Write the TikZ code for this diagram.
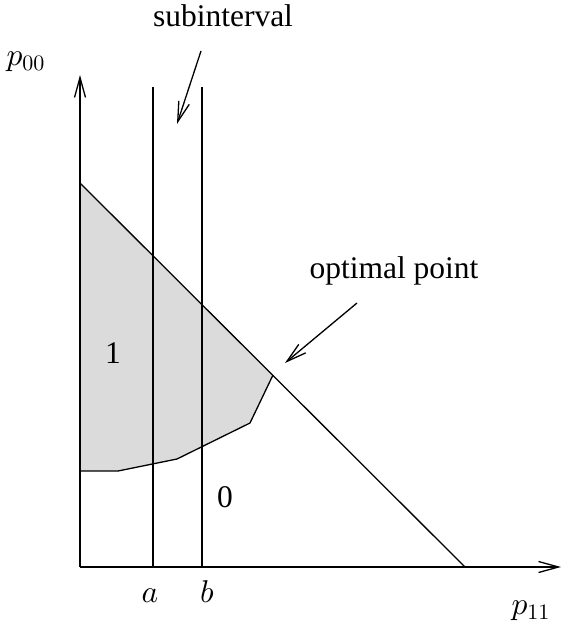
\documentclass[tikz,border=0pt]{standalone}
\usepackage{fix-cm}
\usepackage{fontspec}
\setmainfont{Liberation Serif}
\DeclareFontShape{OML}{cmm}{m}{it}{<->cmmi10}{}
\usetikzlibrary{arrows.meta}

\tikzset{
  axis/.style={->},
  pointer/.style={->},
  label/.style={anchor=base, inner sep=0pt},
  region/.style={fill=black!14}
}

\begin{document}
\begin{tikzpicture}[x=0.5pt,y=-0.5pt,line width=0.65pt,
  font=\fontsize{15.75}{18}\selectfont,
  >={Straight Barb[length=10pt,width=5.5pt]}]
\useasboundingbox (0,0) rectangle (562,626);
% corners
\coordinate (origin) at (80,567);
\coordinate (ytop) at (80,75);
\coordinate (xend) at (561,567);
\coordinate (top) at (80,183);
\coordinate (foot) at (465,567);
\coordinate (opt point) at (273,375);
% feasible region
\fill[region] (top) -- (opt point) -- (250,423) -- (177,459) -- (118,471) -- (80,471) -- cycle;
\draw (opt point) -- (250,423) -- (177,459) -- (118,471) -- (80,471);
% axes
\draw[axis] (origin) -- (ytop);
\draw[axis] (origin) -- (xend);
\draw (top) -- (foot);
% subinterval bounds
\draw (153,567) -- (153,87);
\draw (202,567) -- (202,87);
% labels
\node (p00) at (26,62) {$p_{00}$};
\node (p11) at (531,611) {$p_{11}$};
\node (a) at (150,596) {$a$};
\node (b) at (207,592) {$b$};
\node[label] (one) at (113,363) {1};
\node[label] (zero) at (225,507) {0};
\node[label] (sub) at (223,27) {subinterval};
\node[label] (opt) at (394,278) {optimal point};
% pointers
\coordinate (sub tail) at (201,51);
\coordinate (sub tip) at (177,124);
\coordinate (opt tail) at (357,303);
\coordinate (opt tip) at (285,363);
\draw[pointer] (sub tail) -- (sub tip);
\draw[pointer] (opt tail) -- (opt tip);
\end{tikzpicture}
\end{document}
